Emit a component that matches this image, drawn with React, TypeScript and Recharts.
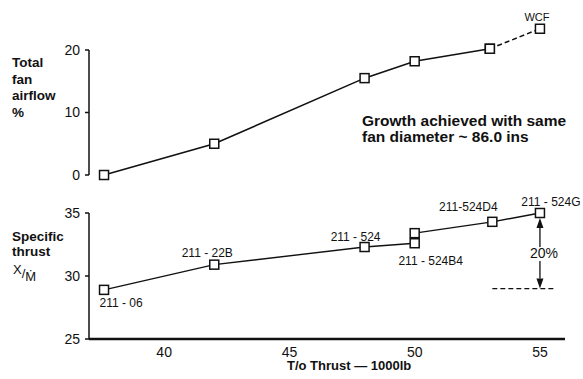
import { LineChart, Line, XAxis, YAxis, ReferenceLine, ReferenceDot, LabelList } from "recharts";

// top panel: total fan airflow growth
const airflowThrust = [37.6, 42, 48, 50, 53];
const airflowPct = [0, 5, 15.5, 18.2, 20.2];
const wcfThrust = [53, 55];
const wcfPct = [20.2, 23.4];
const wcfLabels = ["", "WCF"];

// bottom panel: specific thrust per engine variant
const engineNames = ["211 - 06", "211 - 22B", "211 - 524", "211 - 524B4"];
const engineThrust = [37.6, 42, 48, 50];
const specThrust = [28.9, 30.9, 32.3, 32.6];
const laterNames = ["", "211-524D4", "211 - 524G"];
const laterThrust = [50, 53.1, 55];
const laterSpec = [33.4, 34.3, 35.0];

const thrustTicks = [40, 45, 50, 55];
const airflowTicks = [0, 10, 20];
const specTicks = [25, 30, 35];
const growthBase = 29;

const INK = "#111";
const FONT = "'Liberation Sans', Arial, sans-serif";

// label nudges (px) for the point names
const nameOffsets: Record<string, [number, number]> = {
  "211 - 06": [17, 13],
  "211 - 22B": [-7, -12],
  "211 - 524": [-9, -10],
  "211 - 524B4": [16, 18],
  "211-524D4": [-24, -15],
  "211 - 524G": [11, -11],
  WCF: [-3, -12],
};

const toRows = (xs: number[], ys: number[], names?: string[]) =>
  xs.map((x, i) => ({ x, y: ys[i], name: names ? names[i] : "" }));

const Square = (p: any) => (
  <rect
    key={`sq-${p.index}-${p.cx}`}
    x={p.cx - 4.5}
    y={p.cy - 4.5}
    width={9}
    height={9}
    fill="#fff"
    stroke={INK}
    strokeWidth={1.5}
  />
);

const NameLabel = (p: any) => {
  if (!p.value) return null;
  const [dx, dy] = nameOffsets[p.value] || [0, -10];
  return (
    <text
      x={p.x + dx}
      y={p.y + dy}
      textAnchor="middle"
      dominantBaseline="central"
      fontSize={p.value === "WCF" ? 11 : 12}
      fill={INK}
      fontFamily={FONT}
    >
      {p.value}
    </text>
  );
};

// vertical line with a filled arrowhead at its (x2, y2) end
const ArrowLine = (p: any) => {
  const dir = p.y2 > p.y1 ? 1 : -1;
  const len = 10;
  const half = 3.5;
  const baseY = p.y2 - dir * len;
  return (
    <g>
      <line x1={p.x1} y1={p.y1} x2={p.x2} y2={baseY} stroke={INK} strokeWidth={1.3} />
      <polygon
        points={`${p.x2 - half},${baseY} ${p.x2 + half},${baseY} ${p.x2},${p.y2}`}
        fill={INK}
      />
    </g>
  );
};

const tickStyle = { fontSize: 14, fill: INK, fontFamily: FONT };

export default function App() {
  const topSolid = toRows(airflowThrust, airflowPct);
  const topDashed = toRows(wcfThrust, wcfPct, wcfLabels);
  const lowA = toRows(engineThrust, specThrust, engineNames);
  const lowB = toRows(laterThrust, laterSpec, laterNames);

  return (
    <div
      style={{
        position: "absolute",
        left: 0,
        top: 0,
        width: 583,
        height: 379,
        background: "#fff",
        fontFamily: FONT,
        color: INK,
      }}
    >
      <div style={{ position: "absolute", left: 0, top: 0 }}>
        <LineChart width={583} height={200} margin={{ top: 12.5, right: 18, bottom: 12.5, left: 49 }}>
          <XAxis type="number" dataKey="x" domain={[37, 56]} hide />
          <YAxis
            type="number"
            width={40}
            domain={[-2, 26]}
            ticks={airflowTicks}
            axisLine={false}
            tickSize={4}
            tickMargin={5}
            tickLine={{ stroke: INK, strokeWidth: 1.5 }}
            tick={tickStyle}
          />
          <ReferenceLine
            segment={[{ x: 37, y: 0 }, { x: 37, y: 20 }]}
            stroke={INK}
            strokeWidth={1.5}
          />
          <Line
            data={topDashed}
            dataKey="y"
            stroke={INK}
            strokeWidth={1.5}
            strokeDasharray="5 3"
            dot={Square}
            isAnimationActive={false}
          >
            <LabelList dataKey="name" content={NameLabel} />
          </Line>
          <Line
            data={topSolid}
            dataKey="y"
            stroke={INK}
            strokeWidth={1.6}
            dot={Square}
            isAnimationActive={false}
          />
        </LineChart>
      </div>

      <div style={{ position: "absolute", left: 0, top: 190 }}>
        <LineChart width={583} height={189} margin={{ top: 23, right: 18, bottom: 10, left: 49 }}>
          <XAxis
            type="number"
            dataKey="x"
            domain={[37, 56]}
            ticks={thrustTicks}
            height={30}
            axisLine={{ stroke: INK, strokeWidth: 2.5 }}
            tickLine={false}
            tickSize={6}
            tick={tickStyle}
          />
          <YAxis
            type="number"
            width={40}
            domain={[25, 35]}
            ticks={specTicks}
            axisLine={{ stroke: INK, strokeWidth: 1.5 }}
            tickSize={4}
            tickMargin={5}
            tickLine={{ stroke: INK, strokeWidth: 1.5 }}
            tick={tickStyle}
          />
          <ReferenceLine
            segment={[{ x: 53.1, y: growthBase }, { x: 55.6, y: growthBase }]}
            stroke={INK}
            strokeWidth={1.2}
            strokeDasharray="5 3"
          />
          <ReferenceLine segment={[{ x: 55, y: 32.3 }, { x: 55, y: 34.6 }]} shape={ArrowLine} />
          <ReferenceLine segment={[{ x: 55, y: 31.2 }, { x: 55, y: growthBase }]} shape={ArrowLine} />
          <ReferenceDot
            x={55}
            y={31.8}
            r={0}
            stroke="none"
            fill="none"
            label={(p: any) => (
              <text
                x={(p.viewBox?.cx ?? p.viewBox?.x ?? 0) + 4}
                y={p.viewBox?.cy ?? p.viewBox?.y ?? 0}
                textAnchor="middle"
                dominantBaseline="central"
                fontSize={14}
                fill={INK}
                fontFamily={FONT}
              >
                20%
              </text>
            )}
          />
          <Line
            data={lowA}
            dataKey="y"
            stroke={INK}
            strokeWidth={1.4}
            dot={Square}
            isAnimationActive={false}
          >
            <LabelList dataKey="name" content={NameLabel} />
          </Line>
          <Line
            data={lowB}
            dataKey="y"
            stroke={INK}
            strokeWidth={1.4}
            dot={Square}
            isAnimationActive={false}
          >
            <LabelList dataKey="name" content={NameLabel} />
          </Line>
        </LineChart>
      </div>

      <div style={{ position: "absolute", left: 12, top: 55, fontWeight: "bold", fontSize: 13.5, lineHeight: "16.5px" }}>
        Total<br />fan<br />airflow<br />%
      </div>
      <div style={{ position: "absolute", left: 12, top: 229, fontWeight: "bold", fontSize: 13.5, lineHeight: "15px" }}>
        Specific<br />thrust
      </div>
      <div style={{ position: "absolute", left: 13, top: 266, fontSize: 13 }}>
        <span style={{ position: "relative", top: -4 }}>X</span>
        <span>/</span>
        <span style={{ position: "relative", top: 3 }}>Ṁ</span>
      </div>
      <div style={{ position: "absolute", left: 362, top: 113, fontWeight: "bold", fontSize: 15.5, lineHeight: "16px", whiteSpace: "nowrap" }}>
        Growth achieved with same<br />fan diameter ~ 86.0 ins
      </div>
      <div style={{ position: "absolute", left: 287, top: 358, fontWeight: "bold", fontSize: 13, whiteSpace: "nowrap" }}>
        T/o Thrust — 1000lb
      </div>
    </div>
  );
}
